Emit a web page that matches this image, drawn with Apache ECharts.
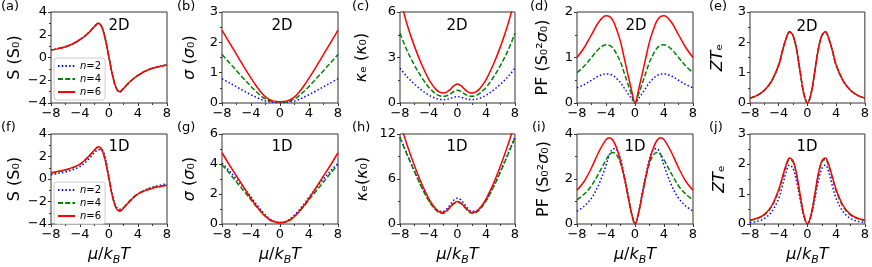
<!DOCTYPE html>
<html>
<head>
<meta charset="utf-8">
<script src="https://cdn.jsdelivr.net/npm/echarts@6/dist/echarts.min.js"></script>
<style>html,body{margin:0;padding:0;background:#fff}#c{width:872px;height:267px}</style>
</head>
<body>
<div id="c"></div>
<script>
// chemical potential grid mu/kBT
const xs = [-8,-7,-6,-5,-4,-3.5,-3,-2.5,-2,-1.5,-1,-0.5,0,0.5,1,1.5,2,2.5,3,3.5,4,5,6,7,8];
const xTicks = [-8,-4,0,4,8];
const seriesNames = ['n=2','n=4','n=6'];

// (a) 2D Seebeck, identical for all n
const S2D_n2 = [0.65,0.78,0.95,1.2,1.58,1.8,2.07,2.38,2.72,3.02,2.7,1.6,0,-1.6,-2.7,-3.02,-2.72,-2.38,-2.07,-1.8,-1.58,-1.2,-0.95,-0.78,-0.65];
const S2D_n4 = [0.65,0.78,0.95,1.2,1.58,1.8,2.07,2.38,2.72,3.02,2.7,1.6,0,-1.6,-2.7,-3.02,-2.72,-2.38,-2.07,-1.8,-1.58,-1.2,-0.95,-0.78,-0.65];
const S2D_n6 = [0.65,0.78,0.95,1.2,1.58,1.8,2.07,2.38,2.72,3.02,2.7,1.6,0,-1.6,-2.7,-3.02,-2.72,-2.38,-2.07,-1.8,-1.58,-1.2,-0.95,-0.78,-0.65];
// (b) 2D sigma
const sig2D_n2 = [0.8,0.667,0.533,0.4,0.273,0.213,0.157,0.107,0.067,0.04,0.023,0.017,0.015,0.017,0.023,0.04,0.067,0.107,0.157,0.213,0.273,0.4,0.533,0.667,0.8];
const sig2D_n4 = [1.6,1.333,1.067,0.8,0.547,0.427,0.313,0.213,0.133,0.08,0.047,0.033,0.03,0.033,0.047,0.08,0.133,0.213,0.313,0.427,0.547,0.8,1.067,1.333,1.6];
const sig2D_n6 = [2.4,2.0,1.6,1.2,0.82,0.64,0.47,0.32,0.2,0.12,0.07,0.05,0.045,0.05,0.07,0.12,0.2,0.32,0.47,0.64,0.82,1.2,1.6,2.0,2.4];
// (c) 2D kappa_e
const kap2D_n2 = [2.3,1.72,1.25,0.85,0.52,0.4,0.3,0.24,0.22,0.24,0.3,0.38,0.42,0.38,0.3,0.24,0.22,0.24,0.3,0.4,0.52,0.85,1.25,1.72,2.3];
const kap2D_n4 = [4.6,3.44,2.5,1.7,1.04,0.8,0.6,0.48,0.44,0.48,0.6,0.76,0.84,0.76,0.6,0.48,0.44,0.48,0.6,0.8,1.04,1.7,2.5,3.44,4.6];
const kap2D_n6 = [6.9,5.16,3.75,2.55,1.56,1.2,0.9,0.72,0.66,0.72,0.9,1.14,1.26,1.14,0.9,0.72,0.66,0.72,0.9,1.2,1.56,2.55,3.75,5.16,6.9];
// (d) 2D power factor
const PF2D_n2 = [0.333,0.407,0.5,0.593,0.64,0.633,0.6,0.533,0.45,0.333,0.213,0.1,0,0.1,0.213,0.333,0.45,0.533,0.6,0.633,0.64,0.593,0.5,0.407,0.333];
const PF2D_n4 = [0.667,0.813,1.0,1.187,1.28,1.267,1.2,1.067,0.9,0.667,0.427,0.2,0,0.2,0.427,0.667,0.9,1.067,1.2,1.267,1.28,1.187,1.0,0.813,0.667];
const PF2D_n6 = [1.0,1.22,1.5,1.78,1.92,1.9,1.8,1.6,1.35,1.0,0.64,0.3,0,0.3,0.64,1.0,1.35,1.6,1.8,1.9,1.92,1.78,1.5,1.22,1.0];
// (e) 2D ZT_e, identical for all n
const ZT2D_n2 = [0.16,0.25,0.42,0.72,1.25,1.7,2.1,2.35,2.22,1.75,1.0,0.3,0,0.3,1.0,1.75,2.22,2.35,2.1,1.7,1.25,0.72,0.42,0.25,0.16];
const ZT2D_n4 = [0.16,0.25,0.42,0.72,1.25,1.7,2.1,2.35,2.22,1.75,1.0,0.3,0,0.3,1.0,1.75,2.22,2.35,2.1,1.7,1.25,0.72,0.42,0.25,0.16];
const ZT2D_n6 = [0.16,0.25,0.42,0.72,1.25,1.7,2.1,2.35,2.22,1.75,1.0,0.3,0,0.3,1.0,1.75,2.22,2.35,2.1,1.7,1.25,0.72,0.42,0.25,0.16];
// (f) 1D Seebeck
const S1D_n2 = [0.38,0.5,0.63,0.82,1.1,1.33,1.62,1.98,2.35,2.6,2.62,1.85,0.15,-1.5,-2.45,-2.68,-2.55,-2.25,-1.9,-1.6,-1.33,-0.98,-0.72,-0.55,-0.42];
const S1D_n4 = [0.52,0.65,0.79,1.0,1.3,1.55,1.85,2.19,2.55,2.83,2.6,1.62,0,-1.62,-2.6,-2.83,-2.55,-2.19,-1.85,-1.55,-1.3,-1.0,-0.79,-0.65,-0.52];
const S1D_n6 = [0.55,0.68,0.82,1.03,1.33,1.58,1.88,2.22,2.58,2.86,2.6,1.6,0,-1.6,-2.6,-2.86,-2.58,-2.22,-1.88,-1.58,-1.33,-1.03,-0.82,-0.68,-0.55];
// (g) 1D sigma
const sig1D_n2 = [4.05,3.55,3.0,2.4,1.8,1.45,1.15,0.85,0.6,0.38,0.22,0.13,0.1,0.13,0.22,0.38,0.6,0.85,1.15,1.45,1.8,2.4,3.0,3.55,4.05];
const sig1D_n4 = [3.95,3.4,2.8,2.2,1.62,1.3,1.02,0.75,0.52,0.32,0.18,0.1,0.08,0.1,0.18,0.32,0.52,0.75,1.02,1.3,1.62,2.2,2.8,3.4,3.95];
const sig1D_n6 = [4.75,3.95,3.2,2.45,1.7,1.35,1.05,0.75,0.5,0.3,0.18,0.12,0.1,0.12,0.18,0.3,0.5,0.75,1.05,1.35,1.7,2.45,3.2,3.95,4.75];
// (h) 1D kappa_e
const kap1D_n2 = [11.6,9.3,7.1,5.0,3.2,2.5,2.0,1.7,1.7,2.0,2.6,3.2,3.45,3.2,2.6,2.0,1.7,1.7,2.0,2.5,3.2,5.0,7.1,9.3,11.6];
const kap1D_n4 = [11.5,9.2,7.0,4.9,3.1,2.4,1.85,1.5,1.45,1.7,2.2,2.7,2.9,2.7,2.2,1.7,1.45,1.5,1.85,2.4,3.1,4.9,7.0,9.2,11.5];
const kap1D_n6 = [13.5,10.5,7.8,5.4,3.4,2.6,2.0,1.6,1.55,1.8,2.3,2.8,3.0,2.8,2.3,1.8,1.55,1.6,2.0,2.6,3.4,5.4,7.8,10.5,13.5];
// (i) 1D power factor
const PF1D_n2 = [0.57,0.8,1.15,1.75,2.6,3.1,3.35,3.3,2.9,2.2,1.4,0.55,0,0.55,1.4,2.2,2.9,3.3,3.35,3.1,2.6,1.75,1.15,0.8,0.57];
const PF1D_n4 = [1.07,1.33,1.7,2.25,2.85,3.1,3.18,3.05,2.7,2.1,1.3,0.5,0,0.5,1.3,2.1,2.7,3.05,3.18,3.1,2.85,2.25,1.7,1.33,1.07];
const PF1D_n6 = [1.5,1.9,2.5,3.2,3.75,3.83,3.7,3.35,2.8,2.1,1.3,0.5,0,0.5,1.3,2.1,2.8,3.35,3.7,3.83,3.75,3.2,2.5,1.9,1.5];
// (j) 1D ZT_e
const ZT1D_n2 = [0.05,0.09,0.18,0.4,0.85,1.25,1.7,1.97,1.85,1.4,0.8,0.25,0,0.25,0.8,1.4,1.85,1.97,1.7,1.25,0.85,0.4,0.18,0.09,0.05];
const ZT1D_n4 = [0.12,0.18,0.3,0.57,1.1,1.5,1.9,2.15,2.07,1.62,0.93,0.29,0,0.29,0.93,1.62,2.07,2.15,1.9,1.5,1.1,0.57,0.3,0.18,0.12];
const ZT1D_n6 = [0.13,0.19,0.32,0.6,1.15,1.55,1.95,2.2,2.1,1.65,0.95,0.3,0,0.3,0.95,1.65,2.1,2.2,1.95,1.55,1.15,0.6,0.32,0.19,0.13];

// y-axis ranges [min, max, interval]
const yRanges = [[-4,4,2],[0,3,1],[0,6,3],[0,2,1],[0,3,1],[-4,4,2],[0,6,2],[0,12,6],[0,4,2],[0,3,1]];
const yNames = [
  'S (S₀)', '{i|σ} ({i|σ}₀)', '{i|κ}ₑ ({i|κ}₀)', 'PF (S₀²{i|σ}₀)', '{i|ZT}ₑ',
  'S (S₀)', '{i|σ} ({i|σ}₀)', '{i|κ}ₑ({i|κ}₀)', 'PF (S₀²{i|σ}₀)', '{i|ZT}ₑ'
];
const panelLabels = ['(a)','(b)','(c)','(d)','(e)','(f)','(g)','(h)','(i)','(j)'];
const dimLabels = ['2D','2D','2D','2D','2D','1D','1D','1D','1D','1D'];
const panelData = [
  [S2D_n2,S2D_n4,S2D_n6],[sig2D_n2,sig2D_n4,sig2D_n6],[kap2D_n2,kap2D_n4,kap2D_n6],[PF2D_n2,PF2D_n4,PF2D_n6],[ZT2D_n2,ZT2D_n4,ZT2D_n6],
  [S1D_n2,S1D_n4,S1D_n6],[sig1D_n2,sig1D_n4,sig1D_n6],[kap1D_n2,kap1D_n4,kap1D_n6],[PF1D_n2,PF1D_n4,PF1D_n6],[ZT1D_n2,ZT1D_n4,ZT1D_n6]
];

const FONT = 'DejaVu Sans';
const colLeft = [51,222,400,577,750];
const colWidth = [116,116,115,116,117];
const rowTop = [12,134];
const rowHeight = [91,92];
const nameGaps = [28,24,30,26,24,28,24,29,25,22];
const labelPos = [[1,8],[177,8],[352,8],[530,8],[709,8],[1,129],[177,129],[352,129],[532,129],[709,129]];
const dimPos = [[119,26],[282,26],[457,26],[636,26],[807,27],[119,147],[282,147],[457,147],[635,147],[807,147]];

const styles = [
  {color:'#0000ff', type:[1.5,2.2], width:1.5},
  {color:'#008000', type:[5,2.2], width:1.5},
  {color:'#ff0000', type:'solid', width:1.5}
];
const minus = v => String(v).replace('-', '\u2212');

const grid=[], xAxis=[], yAxis=[], series=[], graphic=[];
for (let p=0;p<10;p++){
  const r = Math.floor(p/5), c = p%5;
  grid.push({left:colLeft[c], top:rowTop[r], width:colWidth[c], height:rowHeight[r],
    show:true, borderColor:'#333', borderWidth:1, backgroundColor:'transparent'});
  xAxis.push({type:'value', gridIndex:p, min:xTicks[0], max:xTicks[xTicks.length-1], interval:4,
    axisLine:{show:false, onZero:false}, splitLine:{show:false},
    axisTick:{show:true, length:3, lineStyle:{color:'#333'}},
    minorTick:{show:true, splitNumber:2, length:2, lineStyle:{color:'#333'}},
    axisLabel:{fontFamily:FONT, fontSize:13, color:'#000', margin:4, formatter:minus},
    name: r===1 ? '{i|μ}/{i|k}{s|B}{i|T}' : '', nameLocation:'middle', nameGap:20,
    nameTextStyle:{fontFamily:FONT, fontSize:16, color:'#000', lineHeight:22,
      rich:{i:{fontStyle:'italic', fontFamily:FONT, fontSize:16, lineHeight:22},
            s:{fontStyle:'italic', fontFamily:FONT, fontSize:11, lineHeight:14, verticalAlign:'bottom'}}}
  });
  const yr = yRanges[p];
  yAxis.push({type:'value', gridIndex:p, min:yr[0], max:yr[1], interval:yr[2],
    axisLine:{show:false, onZero:false}, splitLine:{show:false},
    axisTick:{show:true, length:3, lineStyle:{color:'#333'}},
    minorTick:{show:true, splitNumber:2, length:2, lineStyle:{color:'#333'}},
    axisLabel:{fontFamily:FONT, fontSize:13, color:'#000', margin:4, formatter:minus},
    name: yNames[p], nameLocation:'middle', nameRotate:90, nameGap:nameGaps[p],
    nameTextStyle:{fontFamily:FONT, fontSize:16, color:'#000',
      rich:{i:{fontStyle:'italic', fontFamily:FONT, fontSize:16}}}
  });
  for (let k=0;k<3;k++){
    series.push({type:'line', name:seriesNames[k], xAxisIndex:p, yAxisIndex:p,
      data: xs.map((x,i)=>[x, panelData[p][k][i]]),
      smooth:0.35, symbol:'none', clip:true, silent:true,
      lineStyle:styles[k], itemStyle:{color:styles[k].color}, z:2+k});
  }
  graphic.push({type:'text', left:labelPos[p][0], top:labelPos[p][1]-8,
    style:{text:panelLabels[p], font:'13px '+JSON.stringify(FONT), fill:'#000'}});
  graphic.push({type:'text', x:dimPos[p][0], y:dimPos[p][1],
    style:{text:dimLabels[p], font:'15px '+JSON.stringify(FONT), fill:'#000', textAlign:'center', textVerticalAlign:'middle'}});
}

const legendBase = {
  data: seriesNames, orient:'vertical', left:54, itemWidth:17, itemHeight:8, itemGap:3,
  backgroundColor:'#fff', borderColor:'#ccc', borderWidth:1, borderRadius:3, padding:[3,4,3,3],
  selectedMode:false,
  itemStyle:{opacity:0, borderWidth:0},
  formatter: n => '{i|n}=' + n.slice(2),
  textStyle:{fontFamily:FONT, fontSize:10, color:'#000', rich:{i:{fontStyle:'italic', fontFamily:FONT, fontSize:10}}}
};
const legend = [Object.assign({}, legendBase, {top:58}), Object.assign({}, legendBase, {top:182})];

const chart = echarts.init(document.getElementById('c'), null, {renderer:'canvas'});
chart.setOption({animation:false, grid, xAxis, yAxis, series, graphic, legend});
</script>
</body>
</html>
